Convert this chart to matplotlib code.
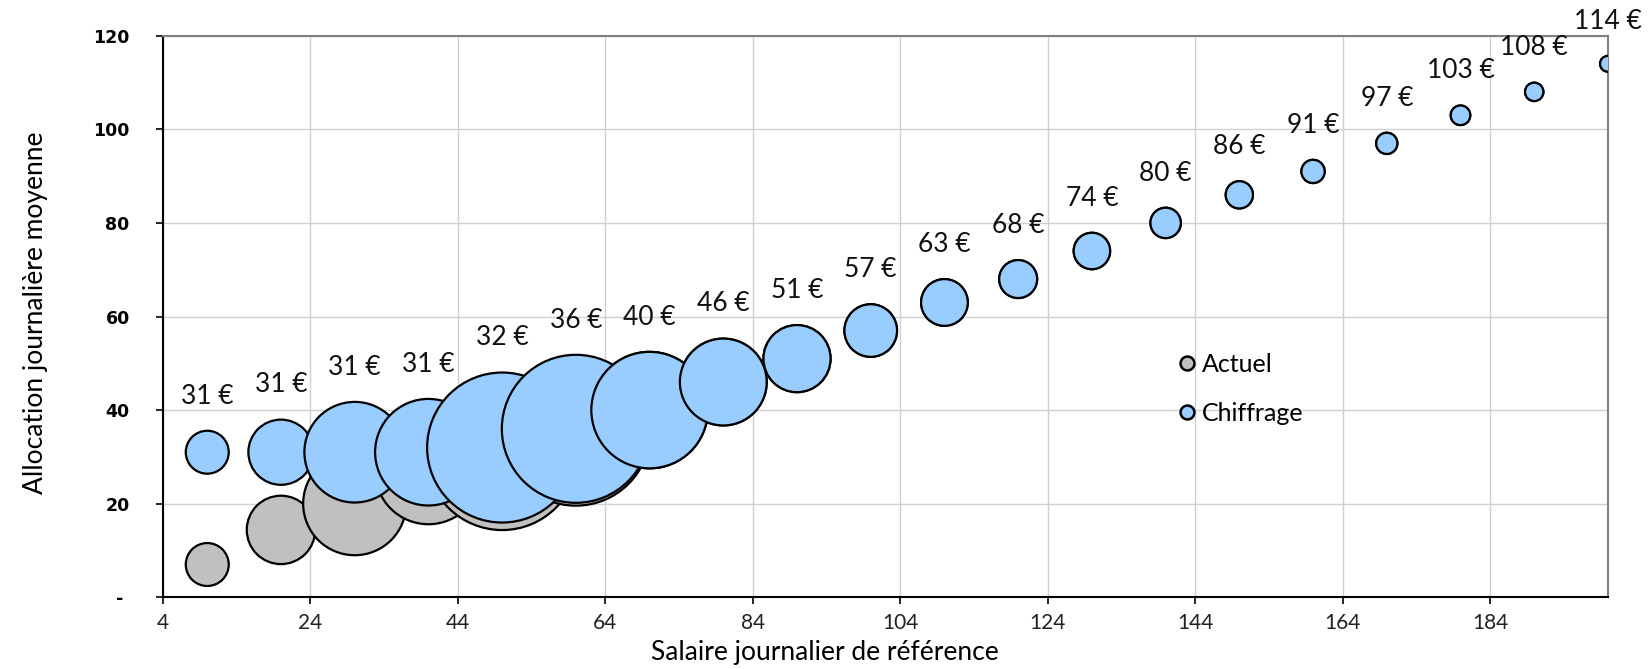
import matplotlib.pyplot as plt
from matplotlib.lines import Line2D
from matplotlib.ticker import FixedLocator, FuncFormatter
import numpy as np

plt.rcParams['font.family'] = ['Lato', 'DejaVu Sans']

# Salaire journalier de référence (classes)
salaire = [10, 20, 30, 40, 50, 60, 70, 80, 90, 100,
           110, 120, 130, 140, 150, 160, 170, 180, 190, 200]

# Allocation journalière moyenne
alloc_actuel = [7, 14.4, 20, 27, 30.6, 35.5, 40, 46, 51, 57,
                63, 68, 74, 80, 86, 91, 97, 103, 108, 114]
alloc_chiffrage = [31, 31, 31, 31, 32, 36, 40, 46, 51, 57,
                   63, 68, 74, 80, 86, 91, 97, 103, 108, 114]

# Effectifs relatifs (base 100 = plus grosse classe)
effectif_actuel = [8.2, 20.8, 47.2, 50.5, 102.6, 98.7, 60.3, 33.5, 20.0, 12.3,
                   9.7, 6.4, 5.9, 4.1, 3.3, 2.4, 2.0, 1.7, 1.5, 1.1]
effectif_chiffrage = [8.2, 18.9, 45.0, 50.5, 100.0, 97.4, 60.3, 33.5, 20.0, 12.3,
                      9.7, 6.4, 5.9, 4.1, 3.3, 2.4, 2.0, 1.7, 1.5, 1.1]

GRIS = '#c0c0c0'
BLEU = '#99ccff'

# rayon (en points) d'une bulle d'effectif 100
R100 = 54.0


def rayon(v):
    return R100 * np.sqrt(np.asarray(v, dtype=float) / 100.0)


fig = plt.figure(figsize=(16.5, 6.69), dpi=100)
ax = fig.add_axes([0.0988, 0.1072, 0.8757, 0.8394])

ax.scatter(salaire, alloc_actuel, s=(2 * rayon(effectif_actuel)) ** 2,
           color=GRIS, edgecolor='black', linewidth=1.6, zorder=3)
ax.scatter(salaire, alloc_chiffrage, s=(2 * rayon(effectif_chiffrage)) ** 2,
           color=BLEU, edgecolor='black', linewidth=1.6, zorder=4)

# étiquettes de valeur au-dessus des bulles "Chiffrage"
for x, y, r in zip(salaire, alloc_chiffrage, rayon(effectif_chiffrage)):
    ax.annotate(f"{y:.0f} €", (x, y), xytext=(0, r + 25),
                textcoords='offset points', ha='center', va='center',
                fontsize=19, color='#111111', annotation_clip=False, zorder=5)

ax.set_xlim(4, 200)
ax.set_ylim(0, 120)
ax.xaxis.set_major_locator(FixedLocator(np.arange(4, 200, 20)))
ax.yaxis.set_major_locator(FixedLocator(np.arange(0, 121, 20)))
ax.yaxis.set_major_formatter(FuncFormatter(lambda v, p: '- ' if v == 0 else f"{v:.0f}"))

ax.grid(True, color='#d0d0d0', linewidth=1.0, zorder=0)
ax.set_axisbelow(True)

for side in ['left', 'bottom']:
    ax.spines[side].set_color('black')
    ax.spines[side].set_linewidth(1.5)
for side in ['top', 'right']:
    ax.spines[side].set_color('#808080')
    ax.spines[side].set_linewidth(1.5)

ax.tick_params(axis='y', length=5, width=1.2, pad=19)
ax.tick_params(axis='x', length=5, width=1.2, pad=6, labelsize=15, labelcolor='#222222')
for lab in ax.get_yticklabels():
    lab.set_fontfamily('DejaVu Sans')
    lab.set_fontweight('bold')
    lab.set_fontsize(12.5)

ax.set_xlabel('Salaire journalier de référence', fontsize=19)
ax.xaxis.set_label_coords(0.458, -0.099)
ax.xaxis.label.set_va('center')
ax.set_ylabel('Allocation journalière moyenne', fontsize=19)
ax.yaxis.set_label_coords(-0.088, 0.506)
ax.yaxis.label.set_va('center')

handles = [
    Line2D([], [], marker='o', ls='', ms=10, mfc=GRIS, mec='black', mew=1.8, label='Actuel'),
    Line2D([], [], marker='o', ls='', ms=10, mfc=BLEU, mec='black', mew=1.8, label='Chiffrage'),
]
ax.legend(handles=handles, loc='center left', bbox_to_anchor=(0.702, 0.371),
          frameon=False, fontsize=18, handlelength=0.8, handletextpad=0.2,
          labelspacing=1.05, borderpad=0, borderaxespad=0)

fig.savefig('out.png', dpi=100)
